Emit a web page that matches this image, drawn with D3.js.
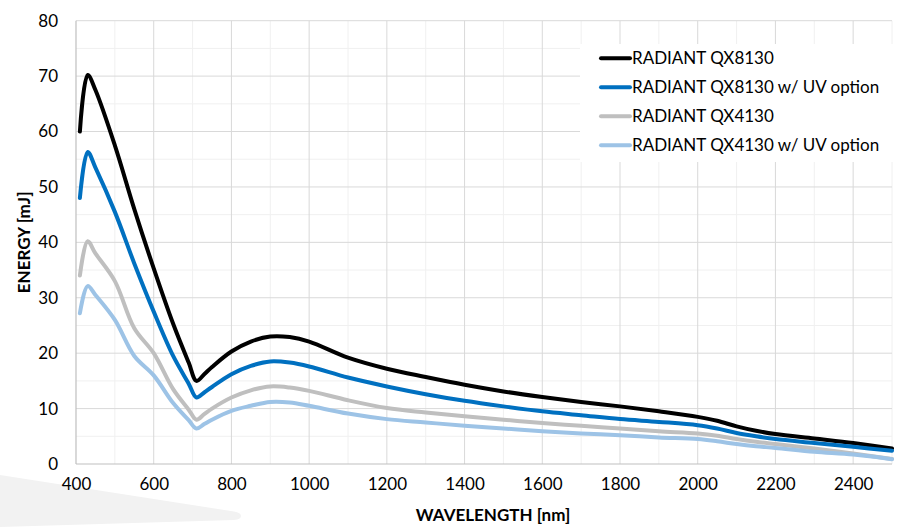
<!DOCTYPE html>
<html>
<head>
<meta charset="utf-8">
<script src="https://cdn.jsdelivr.net/npm/d3@7"></script>
<style>
  html, body { margin: 0; padding: 0; background: #fff; }
  svg { display: block; font-family: Lato, "Open Sans", sans-serif; }
</style>
</head>
<body>
<svg id="chart" width="900" height="527"></svg>
<script>
const wavelengths = [410, 430, 450, 500, 550, 600, 650, 690, 710, 730, 750, 800, 850, 900, 950, 1000, 1100, 1200, 1300, 1400, 1500, 1600, 1700, 1800, 1900, 2000, 2050, 2100, 2150, 2200, 2300, 2400, 2500];
const qx8130   = [60, 70.2, 67.5, 57.5, 46, 35.3, 25.3, 18.3, 15, 16.2, 17.5, 20.3, 22.1, 23, 22.9, 22.1, 19.2, 17.2, 15.7, 14.3, 13.1, 12.1, 11.2, 10.4, 9.5, 8.5, 7.8, 6.8, 6.0, 5.4, 4.6, 3.8, 2.8];
const qx8130uv = [48, 56.3, 53.5, 45.5, 36.2, 27.5, 19.5, 14.5, 12, 12.9, 13.9, 16.2, 17.7, 18.5, 18.3, 17.6, 15.6, 14.0, 12.6, 11.4, 10.4, 9.5, 8.8, 8.1, 7.6, 7.0, 6.4, 5.6, 5.0, 4.5, 3.8, 3.1, 2.4];
const qx4130   = [34, 40.2, 38, 33, 24.5, 20, 13.5, 9.8, 8, 9.0, 10, 12, 13.3, 14, 13.8, 13.2, 11.5, 10.1, 9.3, 8.6, 8.0, 7.4, 6.9, 6.4, 5.9, 5.5, 5.1, 4.5, 4.0, 3.6, 2.8, 1.9, 0.9];
const qx4130uv = [27.2, 32.1, 30.5, 26, 19.5, 16, 11, 7.9, 6.4, 7.2, 8, 9.6, 10.5, 11.2, 11.1, 10.5, 9.1, 8.1, 7.5, 6.9, 6.4, 5.9, 5.5, 5.2, 4.8, 4.5, 4.1, 3.6, 3.2, 2.9, 2.2, 1.7, 0.85];
const seriesNames = ["RADIANT QX8130", "RADIANT QX8130 w/ UV option", "RADIANT QX4130", "RADIANT QX4130 w/ UV option"];
const seriesColors = ["#000000", "#0070c0", "#bfbfbf", "#9dc3e6"];
const xTicks = [400, 600, 800, 1000, 1200, 1400, 1600, 1800, 2000, 2200, 2400];
const yTicks = [0, 10, 20, 30, 40, 50, 60, 70, 80];

const seriesData = [qx8130, qx8130uv, qx4130, qx4130uv];

const svg = d3.select("#chart");
const pL = 76, pR = 892, pT = 20.7, pB = 464;

const x = d3.scaleLinear().domain([400, 2500]).range([pL, pR]);
const y = d3.scaleLinear().domain([0, 80]).range([pB, pT]);

// decorative grey shape bottom-left
svg.append("path")
  .attr("d", "M0,475 L234,511.5 Q241,512.5 241,516 Q241,519.5 234,520 L0,527 Z")
  .attr("fill", "#f2f2f2");

// minor gridlines
const g = svg.append("g");
g.selectAll("line.vminor").data(d3.range(500, 2501, 200)).join("line")
  .attr("x1", d => x(d)).attr("x2", d => x(d)).attr("y1", pT).attr("y2", pB)
  .attr("stroke", "#f0f0f0").attr("stroke-width", 1);
g.selectAll("line.hminor").data(d3.range(5, 80, 10)).join("line")
  .attr("x1", pL).attr("x2", pR).attr("y1", d => y(d)).attr("y2", d => y(d))
  .attr("stroke", "#f0f0f0").attr("stroke-width", 1);
// major gridlines
g.selectAll("line.vmajor").data(xTicks.slice(1)).join("line")
  .attr("x1", d => x(d)).attr("x2", d => x(d)).attr("y1", pT).attr("y2", pB)
  .attr("stroke", "#d9d9d9").attr("stroke-width", 1);
g.selectAll("line.hmajor").data(yTicks.slice(1)).join("line")
  .attr("x1", pL).attr("x2", pR).attr("y1", d => y(d)).attr("y2", d => y(d))
  .attr("stroke", "#d9d9d9").attr("stroke-width", 1);

// axes lines
svg.append("line").attr("x1", pL).attr("x2", pL).attr("y1", pT).attr("y2", pB)
  .attr("stroke", "#bfbfbf").attr("stroke-width", 1.2);
svg.append("line").attr("x1", pL).attr("x2", pR).attr("y1", pB).attr("y2", pB)
  .attr("stroke", "#bfbfbf").attr("stroke-width", 1.2);

// axes labels via d3 axes (no domain/ticks lines)
const xAxis = svg.append("g").attr("transform", `translate(0,${pB})`)
  .call(d3.axisBottom(x).tickValues(xTicks).tickFormat(d3.format("d")).tickSize(0).tickPadding(14));
xAxis.select(".domain").remove();
xAxis.selectAll("text").attr("font-size", 17).attr("fill", "#000").attr("font-family", "Lato, sans-serif");

const yAxis = svg.append("g").attr("transform", `translate(${pL},0)`)
  .call(d3.axisLeft(y).tickValues(yTicks).tickFormat(d3.format("d")).tickSize(0).tickPadding(18));
yAxis.select(".domain").remove();
yAxis.selectAll("text").attr("font-size", 17).attr("fill", "#000").attr("font-family", "Lato, sans-serif");

// axis titles
svg.append("text").attr("x", 493).attr("y", 521).attr("text-anchor", "middle")
  .attr("font-size", 17).attr("font-weight", "bold").text("WAVELENGTH [nm]");
svg.append("text").attr("transform", `translate(30,${(pT + pB) / 2}) rotate(-90)`)
  .attr("text-anchor", "middle").attr("font-size", 17).attr("font-weight", "bold").text("ENERGY [mJ]");

// lines
const line = d3.line().x((d, i) => x(wavelengths[i])).y(d => y(d)).curve(d3.curveCatmullRom.alpha(0.5));
svg.append("g").selectAll("path").data(seriesData).join("path")
  .attr("d", d => line(d))
  .attr("fill", "none")
  .attr("stroke", (d, i) => seriesColors[i])
  .attr("stroke-width", 4)
  .attr("stroke-linejoin", "round")
  .attr("stroke-linecap", "round");

// legend
const lg = svg.append("g");
lg.append("rect").attr("x", 580).attr("y", 44).attr("width", 318).attr("height", 118).attr("fill", "#fff");
const items = lg.selectAll("g").data(seriesNames).join("g")
  .attr("transform", (d, i) => `translate(0,${58.3 + i * 29})`);
items.append("line").attr("x1", 601).attr("x2", 630).attr("y1", 0).attr("y2", 0)
  .attr("stroke", (d, i) => seriesColors[i]).attr("stroke-width", 4).attr("stroke-linecap", "round");
items.append("text").attr("x", 632).attr("y", 0).attr("dy", "0.35em")
  .attr("font-size", 17).attr("fill", "#000").text(d => d);
</script>
</body>
</html>
